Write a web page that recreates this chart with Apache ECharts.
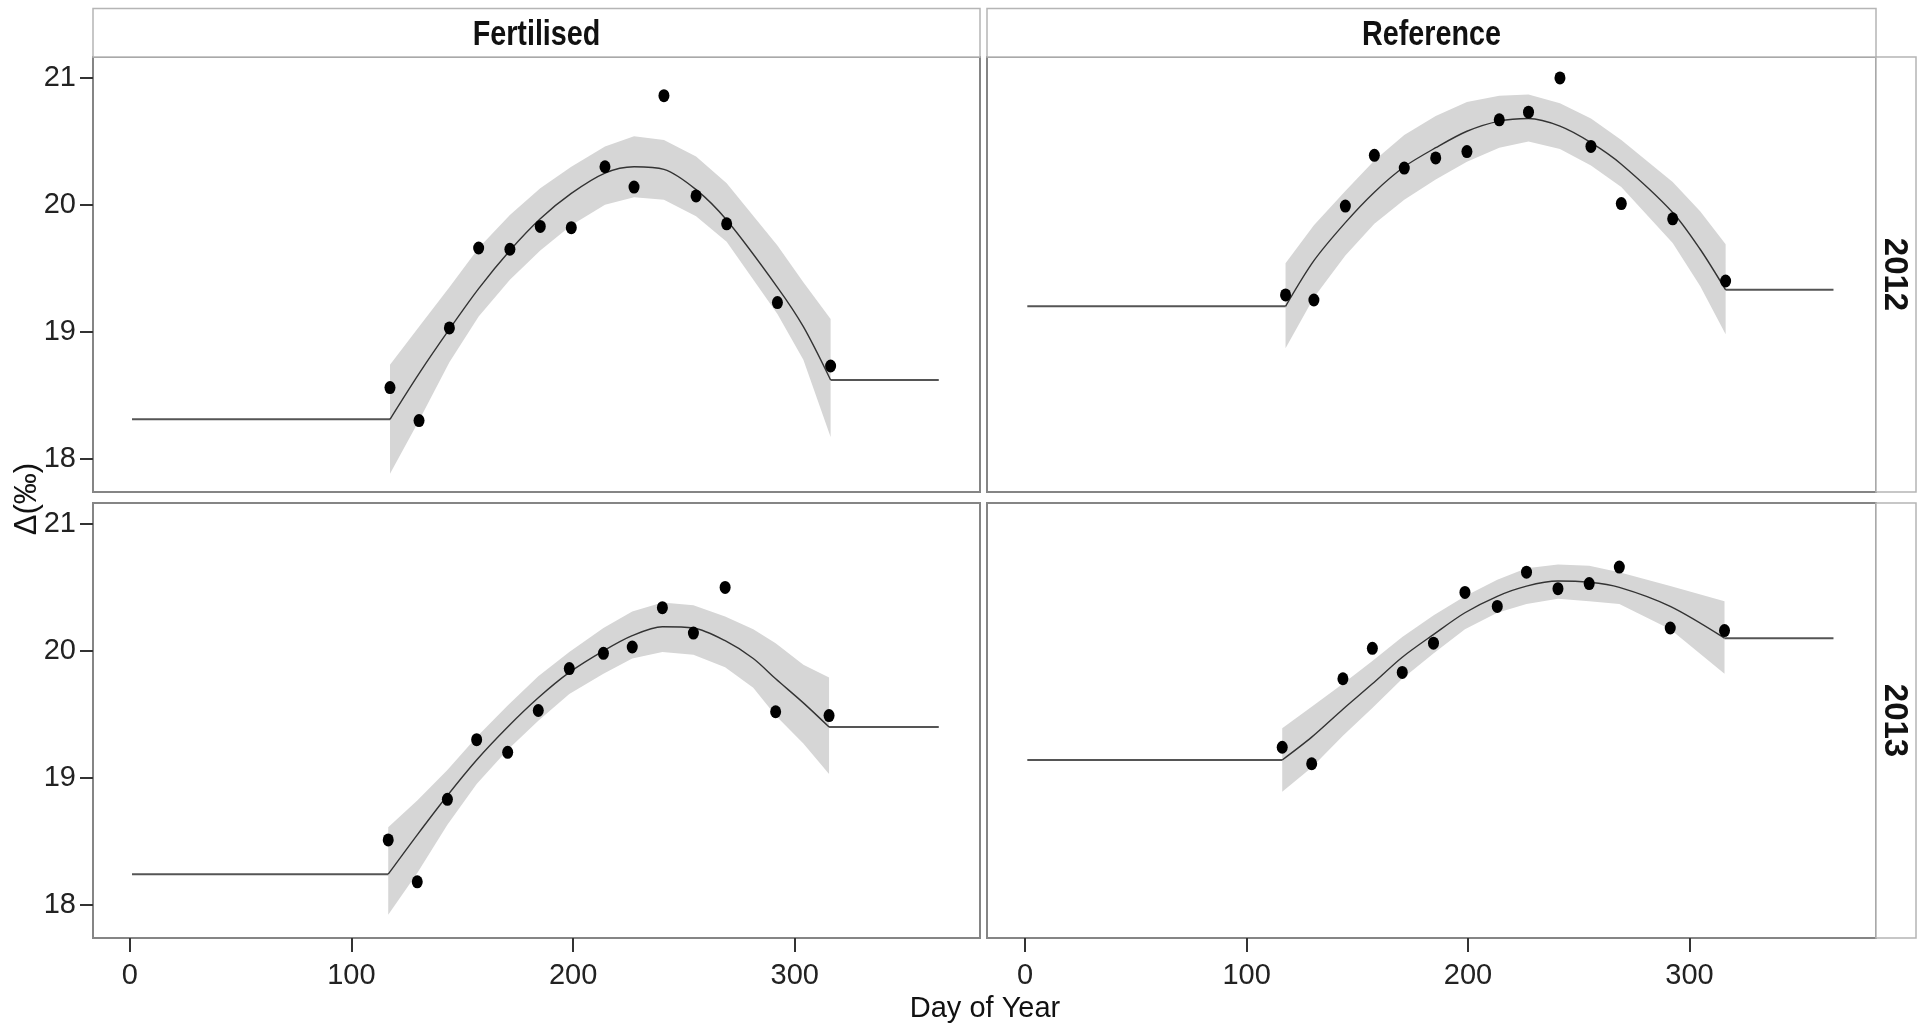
<!DOCTYPE html>
<html>
<head>
<meta charset="utf-8">
<title>Δ by Day of Year</title>
<script src="https://cdn.jsdelivr.net/npm/echarts@6.0.0/dist/echarts.min.js"></script>
<style>
  html, body { margin: 0; padding: 0; background: #fff; }
  #chart { width: 1923px; height: 1028px; }
</style>
</head>
<body>
<div id="chart"></div>
<script>
// facet labels and axis ticks
const COLS = ['Fertilised', 'Reference']
const ROWS = ['2012', '2013']
const X_TICKS = [0, 100, 200, 300]
const Y_TICKS = [18, 19, 20, 21]
const YEAR_START = 1
const YEAR_END = 365

// Fertilised 2012 - observations
const TL_DAY = [117.4, 130.5, 144.2, 157.4, 171.5, 185.2, 199.2, 214.4, 227.5, 241.0, 255.5, 269.3, 292.2, 316.2]
const TL_VAL = [18.56, 18.30, 19.03, 19.66, 19.65, 19.83, 19.82, 20.30, 20.14, 20.86, 20.07, 19.85, 19.23, 18.73]
// Fertilised 2012 - fitted curve and its band
const TL_FIT_DAY = [117.4, 130.5, 144.2, 157.4, 171.5, 185.2, 199.2, 214.4, 227.5, 241.0, 255.5, 269.3, 292.2, 303.9, 316.2]
const TL_FIT = [18.31, 18.67, 19.02, 19.34, 19.64, 19.89, 20.09, 20.25, 20.30, 20.28, 20.12, 19.88, 19.35, 19.04, 18.62]
const TL_UPR = [18.74, 19.04, 19.35, 19.66, 19.92, 20.13, 20.30, 20.46, 20.54, 20.51, 20.38, 20.17, 19.68, 19.39, 19.10]
const TL_LWR = [17.88, 18.30, 18.76, 19.12, 19.41, 19.64, 19.84, 20.00, 20.06, 20.04, 19.91, 19.71, 19.14, 18.78, 18.17]

// Reference 2012
const TR_DAY = [117.6, 130.4, 144.6, 157.7, 171.2, 185.4, 199.5, 214.1, 227.3, 241.5, 255.5, 269.2, 292.4, 316.3]
const TR_VAL = [19.29, 19.25, 19.99, 20.39, 20.29, 20.37, 20.42, 20.67, 20.73, 21.00, 20.46, 20.01, 19.89, 19.40]
const TR_FIT_DAY = [117.6, 130.4, 144.6, 157.7, 171.2, 185.4, 199.5, 214.1, 227.3, 241.5, 255.5, 269.2, 292.4, 304.8, 316.3]
const TR_FIT = [19.20, 19.56, 19.86, 20.10, 20.30, 20.45, 20.58, 20.66, 20.68, 20.62, 20.49, 20.32, 19.94, 19.65, 19.33]
const TR_UPR = [19.54, 19.84, 20.11, 20.35, 20.55, 20.70, 20.81, 20.86, 20.87, 20.80, 20.68, 20.51, 20.18, 19.95, 19.69]
const TR_LWR = [18.87, 19.27, 19.60, 19.85, 20.04, 20.20, 20.34, 20.45, 20.50, 20.44, 20.31, 20.14, 19.70, 19.36, 18.98]

// Fertilised 2013
const BL_DAY = [116.6, 129.7, 143.3, 156.5, 170.5, 184.3, 198.3, 213.7, 226.7, 240.3, 254.3, 268.6, 291.4, 315.5]
const BL_VAL = [18.51, 18.18, 18.83, 19.30, 19.20, 19.53, 19.86, 19.98, 20.03, 20.34, 20.14, 20.50, 19.52, 19.49]
const BL_FIT_DAY = [116.6, 129.7, 143.3, 156.5, 170.5, 184.3, 198.3, 213.7, 226.7, 240.3, 254.3, 268.6, 281.3, 291.4, 303.9, 315.5]
const BL_FIT = [18.24, 18.55, 18.86, 19.14, 19.40, 19.63, 19.83, 20.00, 20.12, 20.19, 20.18, 20.08, 19.94, 19.78, 19.59, 19.40]
const BL_UPR = [18.61, 18.82, 19.06, 19.32, 19.57, 19.80, 19.99, 20.18, 20.31, 20.38, 20.36, 20.27, 20.17, 20.06, 19.89, 19.79]
const BL_LWR = [17.92, 18.25, 18.63, 18.95, 19.22, 19.45, 19.66, 19.82, 19.94, 19.99, 19.97, 19.87, 19.71, 19.49, 19.27, 19.03]

// Reference 2013
const BR_DAY = [116.1, 129.4, 143.5, 156.8, 170.3, 184.4, 198.6, 213.2, 226.4, 240.6, 254.7, 268.3, 291.3, 315.8]
const BR_VAL = [19.24, 19.11, 19.78, 20.02, 19.83, 20.06, 20.46, 20.35, 20.62, 20.49, 20.53, 20.66, 20.18, 20.16]
const BR_FIT_DAY = [116.1, 129.4, 143.5, 156.8, 170.3, 184.5, 198.6, 213.2, 226.4, 240.6, 254.7, 268.3, 291.3, 315.8]
const BR_FIT = [19.14, 19.32, 19.54, 19.74, 19.95, 20.13, 20.30, 20.43, 20.51, 20.55, 20.54, 20.50, 20.35, 20.10]
const BR_UPR = [19.39, 19.56, 19.74, 19.92, 20.11, 20.28, 20.43, 20.56, 20.65, 20.68, 20.67, 20.62, 20.51, 20.39]
const BR_LWR = [18.89, 19.08, 19.33, 19.55, 19.78, 19.98, 20.17, 20.30, 20.37, 20.41, 20.39, 20.37, 20.17, 19.82]

const PANELS = [
  { day: TL_DAY, val: TL_VAL, fitDay: TL_FIT_DAY, fit: TL_FIT, upr: TL_UPR, lwr: TL_LWR },
  { day: TR_DAY, val: TR_VAL, fitDay: TR_FIT_DAY, fit: TR_FIT, upr: TR_UPR, lwr: TR_LWR },
  { day: BL_DAY, val: BL_VAL, fitDay: BL_FIT_DAY, fit: BL_FIT, upr: BL_UPR, lwr: BL_LWR },
  { day: BR_DAY, val: BR_VAL, fitDay: BR_FIT_DAY, fit: BR_FIT, upr: BR_UPR, lwr: BR_LWR }
]

// layout / style
const SANS = '"Liberation Sans", Arial, sans-serif'
const BAND = '#d6d6d6'
const PANEL_BORDER = '#858585'
const STRIP_BORDER = '#b5b5b5'
const Y_MIN = 17.737
const Y_MAX = 21.165
const COL_X = [
  { left: 93, width: 887, min: -16.6, max: 383.6 },
  { left: 987, width: 889, min: -17.2, max: 384.2 }
]
const ROW_Y = [{ top: 57, height: 435 }, { top: 503, height: 435 }]

const chart = echarts.init(document.getElementById('chart'))

const grids = []
const xAxes = []
const yAxes = []
PANELS.forEach((p, i) => {
  const row = Math.floor(i / 2)
  const col = i % 2
  grids.push({
    left: COL_X[col].left, width: COL_X[col].width,
    top: ROW_Y[row].top, height: ROW_Y[row].height,
    show: true, borderColor: PANEL_BORDER, borderWidth: 2, backgroundColor: '#fff',
    containLabel: false, outerBoundsMode: 'none'
  })
  const bottom = row === 1
  const left = col === 0
  xAxes.push({
    gridIndex: i, type: 'value', min: COL_X[col].min, max: COL_X[col].max,
    axisLine: { show: false, onZero: false }, splitLine: { show: false },
    axisTick: { show: bottom, length: 14, customValues: X_TICKS, lineStyle: { color: '#333', width: 2 } },
    axisLabel: {
      show: bottom, customValues: X_TICKS, margin: 23,
      color: '#222', fontSize: 29, fontFamily: SANS
    }
  })
  yAxes.push({
    gridIndex: i, type: 'value', min: Y_MIN, max: Y_MAX,
    axisLine: { show: false, onZero: false }, splitLine: { show: false },
    axisTick: { show: left, length: 13, customValues: Y_TICKS, lineStyle: { color: '#333', width: 2 } },
    axisLabel: {
      show: left, customValues: Y_TICKS, margin: 17,
      color: '#222', fontSize: 29, fontFamily: SANS
    }
  })
})

function panelSeries(p, i) {
  const ax = { xAxisIndex: i, yAxisIndex: i, animation: false, silent: true }
  const n = p.fitDay.length
  const pairs = arr => p.fitDay.map((d, k) => [d, arr[k]])
  return [
    // confidence band as one polygon: upper edge forward, lower edge back
    { ...ax, type: 'custom', z: 1,
      data: p.fitDay.map((d, k) => [d, p.upr[k], p.lwr[k]]),
      encode: { x: 0, y: [1, 2] },
      renderItem: (params, api) => {
        if (params.dataIndexInside !== 0) return null
        const top = []
        const bot = []
        for (let k = 0; k < n; k++) {
          const x = api.value(0, k)
          top.push(api.coord([x, api.value(1, k)]))
          bot.push(api.coord([x, api.value(2, k)]))
        }
        return {
          type: 'polygon',
          shape: { points: top.concat(bot.reverse()) },
          style: { fill: BAND }
        }
      }
    },
    // flat parts outside the sampling season
    { ...ax, type: 'line', z: 3, data: [[YEAR_START, p.fit[0]], [p.fitDay[0], p.fit[0]]], symbol: 'none',
      lineStyle: { color: '#555', width: 2 } },
    { ...ax, type: 'line', z: 3, data: [[p.fitDay[n - 1], p.fit[n - 1]], [YEAR_END, p.fit[n - 1]]], symbol: 'none',
      lineStyle: { color: '#555', width: 2 } },
    // fitted curve
    { ...ax, type: 'line', z: 3, data: pairs(p.fit), smooth: 0.3, symbol: 'none',
      lineStyle: { color: '#333', width: 1.4 } },
    // observations
    { ...ax, type: 'scatter', z: 5, data: p.day.map((d, k) => [d, p.val[k]]),
      symbol: 'circle', symbolSize: [11, 13], itemStyle: { color: '#000', opacity: 1 } }
  ]
}

const series = []
PANELS.forEach((p, i) => series.push(...panelSeries(p, i)))

const graphic = []
// strips on top
COLS.forEach((name, c) => {
  graphic.push({
    type: 'rect', shape: { x: COL_X[c].left, y: 8.5, width: COL_X[c].width, height: 48.5 },
    style: { fill: '#fff', stroke: STRIP_BORDER, lineWidth: 1.5 }
  })
  graphic.push({
    type: 'text', x: COL_X[c].left + COL_X[c].width / 2, y: 35, scaleX: 0.82,
    style: {
      text: name, fill: '#111', font: 'bold 35px ' + SANS,
      align: 'center', verticalAlign: 'middle', textAlign: 'center', textVerticalAlign: 'middle'
    }
  })
})
// strips on the right
ROWS.forEach((name, r) => {
  graphic.push({
    type: 'rect', shape: { x: 1876, y: ROW_Y[r].top, width: 40, height: ROW_Y[r].height },
    style: { fill: '#fff', stroke: STRIP_BORDER, lineWidth: 1.5 }
  })
  graphic.push({
    type: 'text', x: 1894, y: ROW_Y[r].top + ROW_Y[r].height / 2, rotation: -Math.PI / 2,
    style: {
      text: name, fill: '#111', font: 'bold 33px ' + SANS,
      align: 'center', verticalAlign: 'middle', textAlign: 'center', textVerticalAlign: 'middle'
    }
  })
})
// axis titles
graphic.push({
  type: 'text', x: 985, y: 1009,
  style: {
    text: 'Day of Year', fill: '#111', font: '29px ' + SANS,
    align: 'center', verticalAlign: 'middle', textAlign: 'center', textVerticalAlign: 'middle'
  }
})
graphic.push({
  type: 'text', x: 27, y: 499, rotation: Math.PI / 2,
  style: {
    text: 'Δ(‰)', fill: '#111', font: '31px ' + SANS,
    align: 'center', verticalAlign: 'middle', textAlign: 'center', textVerticalAlign: 'middle'
  }
})

chart.setOption({
  animation: false,
  backgroundColor: '#fff',
  grid: grids,
  xAxis: xAxes,
  yAxis: yAxes,
  series,
  graphic
})
</script>
</body>
</html>
